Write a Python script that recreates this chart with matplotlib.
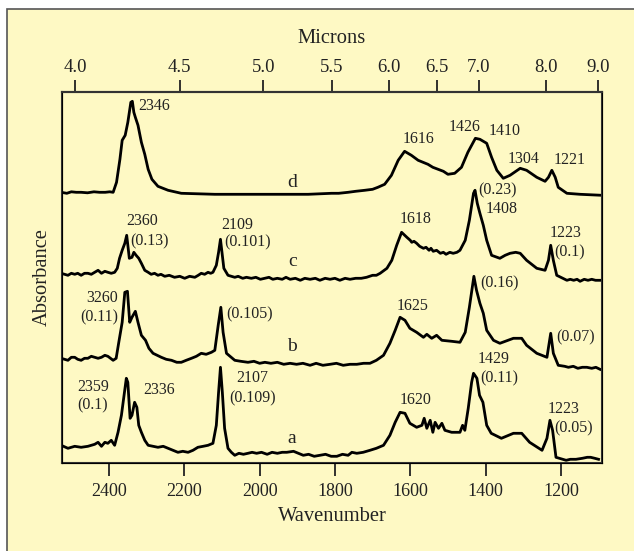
import matplotlib
matplotlib.use("Agg")
import matplotlib.pyplot as plt
from matplotlib.patches import Rectangle

plt.rcParams['font.family'] = ['Liberation Serif', 'DejaVu Serif']

CREAM = '#fef9c4'
INK = '#222222'

# spectra: wavenumber / absorbance (arbitrary units)
wn_d = [2527, 2512, 2500, 2487, 2474, 2457, 2440, 2425, 2410, 2398, 2389, 2380, 2371, 2365,
        2357, 2350, 2342, 2338, 2334, 2330, 2323, 2314, 2305, 2296, 2286, 2270, 2243, 2208,
        2119, 2031, 1942, 1871, 1809, 1790, 1765, 1745, 1721, 1700, 1686, 1668, 1650, 1632,
        1615, 1597, 1579, 1566, 1553, 1540, 1526, 1512, 1500, 1482, 1464, 1447, 1427, 1415,
        1397, 1384, 1370, 1353, 1335, 1308, 1291, 1264, 1242, 1233, 1224, 1215, 1207, 1184,
        1149, 1091]
abs_d = [1, 0, 1.5, 1, 1, 0.5, 1.5, 1, 1, 1.5, 1, 11, 34, 53,
         58, 71, 91, 92, 81, 76, 68, 51, 39, 24, 14, 7, 3, 0,
         -1, -1, -1, -1, 0, 0, 1, 2, 3, 4, 6, 9, 18, 33,
         42, 38, 33, 31, 29, 26, 24, 22, 19, 20, 26, 41, 55, 54,
         50, 36, 23, 15, 18, 25, 23, 16, 12, 16, 23, 16, 6, 0,
         -1, -2]

wn_c = [2527, 2518, 2509, 2500, 2491, 2483, 2474, 2465, 2456, 2447, 2438, 2429, 2420, 2411,
        2403, 2394, 2385, 2378, 2372, 2365, 2358, 2353, 2350, 2346, 2339, 2334, 2328, 2321,
        2314, 2305, 2296, 2288, 2279, 2270, 2262, 2252, 2240, 2226, 2212, 2199, 2186, 2172,
        2163, 2155, 2146, 2137, 2130, 2124, 2115, 2109, 2104, 2100, 2095, 2084, 2075, 2066,
        2057, 2045, 2035, 2022, 2010, 1998, 1986, 1975, 1965, 1953, 1940, 1930, 1919, 1905,
        1892, 1880, 1866, 1852, 1840, 1826, 1813, 1800, 1787, 1773, 1760, 1745, 1730, 1716,
        1700, 1690, 1680, 1662, 1649, 1636, 1623, 1609, 1600, 1596, 1590, 1583, 1575, 1565,
        1558, 1550, 1545, 1539, 1530, 1520, 1512, 1505, 1495, 1486, 1476, 1468, 1454, 1443,
        1432, 1428, 1422, 1415, 1406, 1397, 1384, 1362, 1348, 1335, 1320, 1308, 1291, 1264,
        1242, 1233, 1227, 1220, 1211, 1184, 1175, 1166, 1157, 1149, 1138, 1128, 1118, 1108,
        1096]
abs_c = [2, 1, 0, 2, 1, 2, 0, 2, 2, 1, 3, 5, 2, 4,
         3, 2, 3, 7, 17, 25, 32, 40, 30, 17, 18, 23, 20, 17,
         12, 5, 3, 1, 2, 0, 1, -1, 0, -2, -1, -3, -1, -2,
         0, 2, 1, 3, 2, 3, 10, 23, 36, 23, 7, 0, -1, -2,
         -1, -3, -2, -3, -2, -4, -3, -2, -4, -3, -4, -2, -4, -3,
         -5, -3, -4, -3, -5, -3, -4, -3, -5, -3, -4, -3, -3, -2,
         0, 0, 2, 7, 15, 30, 43, 38, 35, 33, 34, 32, 29, 27,
         28, 25, 27, 24, 25, 22, 23, 21, 23, 22, 23, 25, 35, 55,
         82, 85, 72, 62, 50, 35, 20, 17, 20, 22, 23, 22, 15, 7,
         5, 15, 30, 15, 0, -5, -4, -5, -4, -6, -4, -5, -4, -5,
         -5]

wn_b = [2527, 2518, 2509, 2500, 2491, 2483, 2474, 2465, 2456, 2447, 2438, 2429, 2420, 2411,
        2403, 2396, 2389, 2381, 2374, 2365, 2358, 2351, 2345, 2339, 2330, 2323, 2314, 2303,
        2294, 2283, 2272, 2261, 2248, 2234, 2220, 2208, 2195, 2181, 2168, 2155, 2142, 2128,
        2119, 2110, 2103, 2097, 2088, 2066, 2050, 2031, 2015, 2000, 1986, 1970, 1953, 1936,
        1919, 1902, 1885, 1866, 1850, 1832, 1813, 1796, 1778, 1760, 1742, 1724, 1707, 1690,
        1671, 1654, 1640, 1627, 1614, 1601, 1583, 1565, 1556, 1543, 1530, 1516, 1490, 1468,
        1454, 1443, 1431, 1424, 1415, 1406, 1397, 1379, 1362, 1326, 1304, 1291, 1264, 1237,
        1227, 1220, 1207, 1190, 1180, 1167, 1155, 1143, 1131, 1118, 1107, 1096]
abs_b = [2, 1, 0, 3, 3, 1, 0, 2, 2, 4, 3, 2, 3, 5,
         4, 2, 0, 2, 18, 38, 68, 69, 38, 43, 49, 38, 25, 20,
         12, 7, 5, 3, 1, 0, -2, -2, 0, 2, 4, 7, 6, 8,
         10, 35, 53, 28, 7, 0, -1, -2, -1, -3, -2, -3, -2, -4,
         -3, -4, -3, -5, -3, -5, -4, -3, -5, -4, -4, -3, -3, 0,
         5, 17, 30, 43, 40, 32, 28, 23, 26, 22, 25, 20, 19, 18,
         28, 53, 84, 70, 57, 47, 30, 20, 17, 22, 22, 15, 7, 3,
         27, 7, -5, -6, -7, -6, -8, -7, -7, -8, -7, -9]

wn_a = [2527, 2509, 2491, 2474, 2456, 2438, 2429, 2420, 2411, 2403, 2394, 2385, 2376, 2367,
        2360, 2354, 2350, 2344, 2339, 2332, 2326, 2321, 2314, 2305, 2296, 2283, 2270, 2256,
        2243, 2230, 2217, 2204, 2190, 2177, 2164, 2150, 2137, 2124, 2115, 2109, 2104, 2099,
        2093, 2084, 2075, 2066, 2055, 2043, 2031, 2020, 2008, 1995, 1980, 1967, 1953, 1940,
        1928, 1910, 1897, 1884, 1870, 1855, 1840, 1825, 1810, 1795, 1780, 1765, 1755, 1742,
        1725, 1707, 1690, 1671, 1654, 1640, 1627, 1614, 1601, 1583, 1569, 1563, 1556, 1547,
        1540, 1534, 1525, 1516, 1508, 1490, 1468, 1461, 1455, 1446, 1437, 1432, 1423, 1416,
        1407, 1397, 1385, 1358, 1326, 1304, 1283, 1250, 1237, 1229, 1222, 1213, 1186, 1175,
        1160, 1143, 1130, 1121, 1110, 1100]
abs_a = [2, -1, 1, 0, 1, 3, 5, 1, 5, 4, 7, 2, 15, 32,
         52, 69, 65, 29, 32, 45, 40, 22, 15, 7, 2, 1, 0, 1,
         -1, -3, -5, -4, -5, -3, 0, 1, 2, 4, 22, 55, 80, 55,
         19, -1, -5, -8, -6, -7, -6, -5, -6, -5, -7, -5, -6, -5,
         -5, -4, -6, -8, -7, -9, -8, -7, -9, -9, -7, -8, -5, -6,
         -5, -3, -1, 2, 12, 25, 35, 34, 24, 20, 22, 29, 19, 27,
         15, 25, 19, 24, 17, 15, 15, 22, 17, 39, 65, 74, 69, 52,
         45, 22, 14, 9, 14, 14, 5, -3, 9, 27, 17, -10, -13, -12,
         -12, -11, -10, -10, -11, -12]

spectra = {'d': (wn_d, abs_d), 'c': (wn_c, abs_c), 'b': (wn_b, abs_b), 'a': (wn_a, abs_a)}
offsets = {'d': 270, 'c': 188, 'b': 103, 'a': 16}

wn_ticks = [2400, 2200, 2000, 1800, 1600, 1400, 1200]
micron_ticks = [4.0, 4.5, 5.0, 5.5, 6.0, 6.5, 7.0, 8.0, 9.0]

# peak labels: (text, wavenumber, height)
peak_labels = [
    ('2346', 2279, 357), ('1616', 1577, 324), ('1426', 1457, 336), ('1410', 1350, 332),
    ('1304', 1298, 304), ('1221', 1176, 303), ('(0.23)', 1369, 273), ('1408', 1357, 254),
    ('2360', 2313, 242), ('(0.13)', 2292, 222), ('2109', 2060, 238), ('(0.101)', 2032, 221),
    ('1618', 1585, 244), ('1223', 1187, 230), ('(0.1)', 1176, 211),
    ('3260', 2419, 165), ('(0.11)', 2427, 146), ('(0.105)', 2027, 149), ('(0.16)', 1362, 180),
    ('1625', 1593, 157), ('(0.07)', 1162, 126),
    ('2359', 2442, 76), ('(0.1)', 2443, 58), ('2336', 2267, 73), ('2107', 2020, 85),
    ('(0.109)', 2019, 65), ('1620', 1585, 63), ('1429', 1379, 104), ('(0.11)', 1364, 85),
    ('1223', 1192, 54), ('(0.05)', 1165, 35),
]
trace_labels = [('d', 1913, 281), ('c', 1913, 202), ('b', 1915, 117), ('a', 1915, 25)]

fig = plt.figure(figsize=(6.34, 5.51), dpi=100)
fig.patches.append(Rectangle((7 / 634, -0.05), 1.0, 1.05 - 9 / 551, transform=fig.transFigure,
                             facecolor=CREAM, edgecolor='#555555', lw=1.2, zorder=-10))

ax = fig.add_axes([61.7 / 634, 87.7 / 551, 540.6 / 634, 371.6 / 551])
ax.set_facecolor(CREAM)
for name, (wn, ab) in spectra.items():
    ax.plot(wn, [v + offsets[name] for v in ab], color='black', lw=2.0, solid_joinstyle='round')

for txt, x, y in peak_labels:
    ax.text(x, y, txt, ha='center', va='center', fontsize=11.5, color=INK)
for txt, x, y in trace_labels:
    ax.text(x, y, txt, ha='center', va='center', fontsize=14, color=INK)

ax.set_xlim(2525.6, 1090)
ax.set_ylim(0, 371.6)
ax.set_yticks([])
ax.set_xticks(wn_ticks)
ax.set_xticklabels([str(t) for t in wn_ticks])
ax.tick_params(axis='x', direction='out', length=9, width=1.3, pad=5.5, labelsize=13,
               colors=INK)
for sp in ax.spines.values():
    sp.set_color('#333333')
    sp.set_linewidth(1.5)
ax.set_xlabel('Wavenumber', fontsize=14.8, color=INK, labelpad=5)

top = ax.twiny()
top.set_xlim(ax.get_xlim())
top.set_xticks([1e4 / m - 10 for m in micron_ticks])
top.set_xticklabels(['%.1f' % m for m in micron_ticks])
top.tick_params(axis='x', direction='out', length=9, width=1.3, pad=2, labelsize=13.5,
                colors=INK)
top.spines['top'].set_color('#333333')
top.spines['top'].set_linewidth(1.5)
top.set_xlabel('Microns', fontsize=14.8, color=INK, labelpad=12)

fig.text(42 / 634, 1 - 277 / 551, 'Absorbance', rotation=90, ha='center', va='center',
         fontsize=14.8, color=INK)

fig.savefig('out.png', dpi=100)
